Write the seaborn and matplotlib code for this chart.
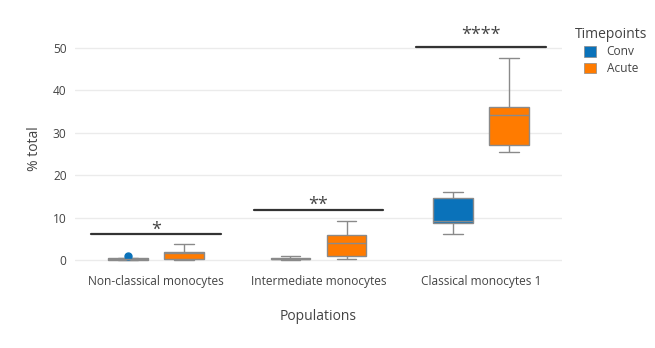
import matplotlib
matplotlib.use("Agg")
import matplotlib.pyplot as plt
import seaborn as sns
import pandas as pd
from matplotlib.patches import Patch

# ---- data ----
populations = ["Non-classical monocytes", "Intermediate monocytes", "Classical monocytes 1"]
timepoints = ["Conv", "Acute"]
nonclassical_conv = [0.02, 0.1, 0.2, 0.35, 0.45, 1.0]
nonclassical_acute = [0.05, 0.25, 1.55, 2.0, 3.7]
intermediate_conv = [0.05, 0.15, 0.3, 0.45, 0.85]
intermediate_acute = [0.25, 1.0, 4.1, 6.0, 9.2]
classical_conv = [6.1, 8.7, 9.2, 14.5, 16.0]
classical_acute = [25.5, 27.2, 34.2, 36.0, 47.6]
sig_levels = [6.2, 11.8, 50.2]
sig_text_y = [4.95, 10.95, 51.05]
sig_labels = ["*", "**", "****"]
yticks = [0, 10, 20, 30, 40, 50]

groups = {
    (populations[0], "Conv"): nonclassical_conv,
    (populations[0], "Acute"): nonclassical_acute,
    (populations[1], "Conv"): intermediate_conv,
    (populations[1], "Acute"): intermediate_acute,
    (populations[2], "Conv"): classical_conv,
    (populations[2], "Acute"): classical_acute,
}
rows = []
for (pop, tp), vals in groups.items():
    for v in vals:
        rows.append({"Populations": pop, "Timepoints": tp, "value": v})
df = pd.DataFrame(rows)

colors = {"Conv": "#0a72ba", "Acute": "#ff7b00"}
median_colors = ["#0a5f9a", "#d96a00"]
edge = "#8a8a8a"

sns.set_theme(style="white")
plt.rcParams["font.family"] = ["Open Sans", "DejaVu Sans"]

fig = plt.figure(figsize=(6.55, 3.48), dpi=100)
ax = fig.add_axes([75 / 655, (348 - 266.4) / 348, 487 / 655, (266.4 - 30) / 348])

sns.boxplot(
    data=df, x="Populations", y="value", hue="Timepoints",
    order=populations, hue_order=timepoints, palette=colors, saturation=1,
    width=0.69, gap=0.29, linewidth=1.0, linecolor=edge,
    flierprops=dict(marker="o", markersize=5, markerfacecolor=colors["Conv"],
                    markeredgecolor=colors["Conv"]),
    ax=ax, legend=False,
)

ax.set_xlim(-0.5, 2.5)
ax.set_ylim(-1.5, 54.2)
ax.set_yticks(yticks)
ax.grid(axis="y", color="#ebebeb", linewidth=1)
ax.set_axisbelow(True)
for s in ax.spines.values():
    s.set_visible(False)
ax.tick_params(axis="both", length=0, labelsize=8.6, colors="#444444", pad=6)
ax.set_xlabel("Populations", fontsize=10, color="#444444", labelpad=15.5)
ax.set_ylabel("% total", fontsize=10, color="#444444", labelpad=8)

for i, (lvl, ty, lab) in enumerate(zip(sig_levels, sig_text_y, sig_labels)):
    ax.plot([i - 0.4, i + 0.4], [lvl, lvl], color="#333333", linewidth=1.6)
    ax.text(i, ty, lab, ha="center", va="bottom", fontsize=13, color="#444444",
            clip_on=False)

handles = [Patch(facecolor=colors[t], edgecolor=edge, linewidth=0.5, label=t) for t in timepoints]
leg = fig.legend(handles=handles, title="Timepoints", loc="upper left",
                 bbox_to_anchor=(570 / 655, 1 - 22 / 348), frameon=False,
                 fontsize=8.6, title_fontsize=10, handlelength=1.0, handleheight=1.0,
                 labelspacing=0.3, handletextpad=0.9, borderaxespad=0)
leg.get_title().set_color("#444444")
for t in leg.get_texts():
    t.set_color("#444444")

fig.savefig("out.png", dpi=100)
